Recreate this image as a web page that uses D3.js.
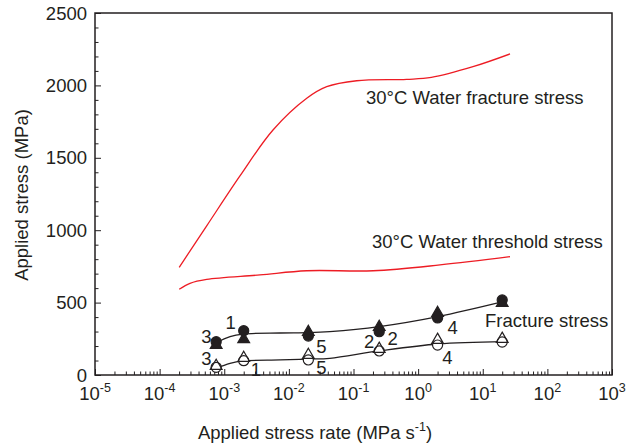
<!doctype html>
<html>
<head>
<meta charset="utf-8">
<script src="https://d3js.org/d3.v7.min.js"></script>
<style>
  body { margin: 0; background: #fff; }
  svg text { font-family: "Liberation Sans", Arial, sans-serif; fill: #231f20; }
</style>
</head>
<body>
<svg id="chart" width="636" height="445"></svg>
<script>
// measured points, stress rate (MPa/s) vs applied stress (MPa)
var rates = [7.5e-4, 2e-3, 2e-2, 0.25, 2, 20];
var fracCircle = [230, 306, 269, 299, 394, 518];
var fracTri = [207, 247, 297, 331, 428, 497];
var thrCircle = [53, 99, 104, 166, 207, 228];
var thrTri = [62, 117, 138, 180, 242, 249];

// fitted black curves
var fitRates = [7.4e-4, 1.23e-3, 1.95e-3, 7.3e-3, 2.05e-2, 4.3e-2, 0.25, 2.03, 20.6];
var fitUpper = [221, 265, 283, 290, 292, 299, 334, 403, 506];
var fitLower = [46, 81, 97, 104, 110, 115, 166, 214, 230];

// red curves for 30°C water
var waterRates = [2.01e-4, 5.35e-4, 1.75e-3, 5.68e-3, 1.89e-2, 3.85e-2, 0.112, 0.665, 1.6, 7.06, 26.4];
var waterFracture = [744, 1030, 1375, 1692, 1911, 1991, 2032, 2042, 2055, 2129, 2217];
var thrRates = [2.01e-4, 2.95e-4, 5.35e-4, 3.57e-3, 1.89e-2, 0.202, 2.18, 26.4];
var waterThreshold = [592, 633, 660, 691, 720, 720, 760, 817];

// specimen numbers beside the markers
var numText = ["3", "1", "5", "2", "4", "3", "1", "5", "2", "4"];
var numRate = [5.3e-4, 1.26e-3, 0.032, 0.405, 3.43, 5.3e-4, 3.1e-3, 0.032, 0.175, 2.83];
var numStress = [265, 361, 195, 253, 327, 115, 35, 53, 230, 119];

var xExp = [-5, -4, -3, -2, -1, 0, 1, 2, 3];
var yTicks = [0, 500, 1000, 1500, 2000, 2500];

var svg = d3.select("#chart");
var pl = 95, pr = 612, pt = 13, pb = 375;
var red = "#ed1c24", ink = "#231f20";

var x = d3.scaleLog().domain([1e-5, 1e3]).range([pl, pr]);
var y = d3.scaleLinear().domain([0, 2500]).range([pb, pt]);

// minor ticks
var xMinor = [];
xExp.slice(0, -1).forEach(function(e) {
    for (var m = 2; m <= 9; m++) xMinor.push(m * Math.pow(10, e));
});
var yMinor = d3.range(0, 2501, 100).filter(function(v) { return v % 500 != 0; });

function clean(g) { g.select(".domain").remove(); g.selectAll("line").attr("stroke", ink); }

svg.append("g").attr("transform", "translate(0," + pb + ")")
    .call(d3.axisBottom(x).tickValues(xMinor).tickSize(-3.5).tickFormat(""))
    .call(clean);
svg.append("g").attr("transform", "translate(0," + pb + ")")
    .call(d3.axisBottom(x).tickValues(xExp.map(function(e) { return Math.pow(10, e); })).tickSize(-6).tickFormat(""))
    .call(clean);
svg.append("g").attr("transform", "translate(" + pl + ",0)")
    .call(d3.axisLeft(y).tickValues(yMinor).tickSize(-3.5).tickFormat(""))
    .call(clean);
svg.append("g").attr("transform", "translate(" + pl + ",0)")
    .call(d3.axisLeft(y).tickValues(yTicks).tickSize(-6).tickFormat(""))
    .call(clean);

svg.append("rect").attr("x", pl).attr("y", pt)
    .attr("width", pr - pl).attr("height", pb - pt)
    .attr("fill", "none").attr("stroke", ink).attr("stroke-width", 1.5);

// tick labels
svg.selectAll(".ylab").data(yTicks).enter().append("text")
    .attr("x", pl - 8).attr("y", function(d) { return y(d) + 6.5; })
    .attr("text-anchor", "end").style("font-size", "18.5px")
    .text(function(d) { return d; });

var xl = svg.selectAll(".xlab").data(xExp).enter().append("text")
    .attr("x", function(d) { return x(Math.pow(10, d)); }).attr("y", 400)
    .attr("text-anchor", "middle").style("font-size", "18.5px");
xl.append("tspan").text("10");
xl.append("tspan").attr("dy", -8).style("font-size", "12.5px").text(function(d) { return d; });

// axis titles
var xt = svg.append("text").attr("x", 315).attr("y", 439)
    .attr("text-anchor", "middle").style("font-size", "18.5px");
xt.append("tspan").text("Applied stress rate (MPa s");
xt.append("tspan").attr("dy", -8).style("font-size", "12.5px").text("-1");
xt.append("tspan").attr("dy", 8).text(")");

svg.append("text").attr("transform", "translate(28,195) rotate(-90)")
    .attr("text-anchor", "middle").style("font-size", "18.5px")
    .text("Applied stress (MPa)");

// red water curves and black fits, drawn smooth through the read points
var smooth = d3.line().curve(d3.curveCatmullRom.alpha(0.5));
function pts(r, s) { return r.map(function(v, i) { return [x(v), y(s[i])]; }); }

svg.append("path").attr("d", smooth(pts(waterRates, waterFracture)))
    .attr("fill", "none").attr("stroke", red).attr("stroke-width", 1.3);
svg.append("path").attr("d", smooth(pts(thrRates, waterThreshold)))
    .attr("fill", "none").attr("stroke", red).attr("stroke-width", 1.3);

svg.append("path").attr("d", smooth(pts(fitRates, fitUpper)))
    .attr("fill", "none").attr("stroke", ink).attr("stroke-width", 1.3);
svg.append("path").attr("d", smooth(pts(fitRates, fitLower)))
    .attr("fill", "none").attr("stroke", ink).attr("stroke-width", 1.3);

// markers
var tri = d3.symbol().type(d3.symbolTriangle).size(60);
var circ = d3.symbol().type(d3.symbolCircle).size(80);
function markers(vals, shape, filled) {
    return svg.append("g").selectAll("path").data(vals).enter().append("path")
        .attr("transform", function(d, i) { return "translate(" + x(rates[i]) + "," + y(d) + ")"; })
        .attr("d", shape == "tri" ? tri : circ)
        .attr("stroke", ink).attr("stroke-width", 1.2)
        .attr("fill", filled ? ink : "#fff");
}
markers(thrCircle, "circle", false);
markers(thrTri, "tri", false).attr("fill", "none");
markers(fracCircle, "circle", true);
markers(fracTri, "tri", true);

// specimen numbers
svg.selectAll(".num").data(numText).enter().append("text")
    .attr("x", function(d, i) { return x(numRate[i]); })
    .attr("y", function(d, i) { return y(numStress[i]) + 6.5; })
    .attr("text-anchor", "middle").style("font-size", "18.5px")
    .text(function(d) { return d; });

// curve labels
svg.append("text").attr("x", 366).attr("y", 104).style("font-size", "18.5px").text("30°C Water fracture stress");
svg.append("text").attr("x", 372).attr("y", 248).style("font-size", "18.5px").text("30°C Water threshold stress");
svg.append("text").attr("x", 485).attr("y", 327).style("font-size", "18.5px").text("Fracture stress");
</script>
</body>
</html>
